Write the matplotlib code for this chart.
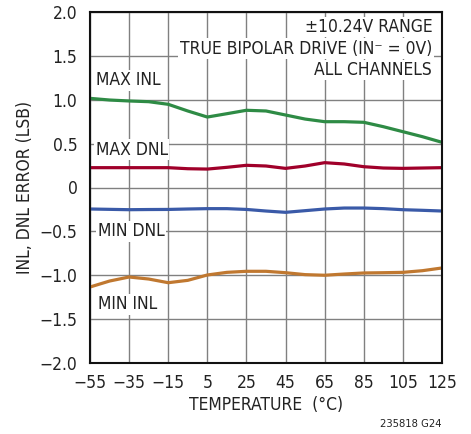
import matplotlib.pyplot as plt
from matplotlib.ticker import FixedLocator, FuncFormatter

# temperatures (°C) and values, every 10 degrees
temp = [-55, -45, -35, -25, -15, -5, 5, 15, 25, 35, 45, 55, 65, 75, 85, 95, 105, 115, 125]
max_inl = [1.016, 0.997, 0.986, 0.978, 0.948, 0.872, 0.803, 0.841, 0.88, 0.872,
           0.826, 0.78, 0.75, 0.75, 0.743, 0.693, 0.636, 0.579, 0.515]
max_dnl = [0.226, 0.226, 0.226, 0.226, 0.226, 0.214, 0.21, 0.23, 0.253, 0.245,
           0.218, 0.245, 0.283, 0.268, 0.237, 0.222, 0.218, 0.222, 0.226]
min_dnl = [-0.245, -0.249, -0.253, -0.251, -0.25, -0.245, -0.241, -0.241, -0.25, -0.268,
           -0.283, -0.264, -0.245, -0.234, -0.234, -0.241, -0.253, -0.26, -0.268]
min_inl = [-1.134, -1.066, -1.02, -1.043, -1.085, -1.058, -0.997, -0.967, -0.955, -0.955,
           -0.971, -0.993, -1.0, -0.986, -0.974, -0.971, -0.967, -0.948, -0.917]

x_ticks = [-55, -35, -15, 5, 25, 45, 65, 85, 105, 125]
y_ticks = [-2.0, -1.5, -1.0, -0.5, 0, 0.5, 1.0, 1.5, 2.0]

plt.rcParams['font.family'] = ['Liberation Sans Narrow', 'DejaVu Sans']
plt.rcParams['font.stretch'] = 'condensed'

fig = plt.figure(figsize=(4.71, 4.34), dpi=100)
ax = fig.add_axes([90 / 471, 1 - 363 / 434, 352 / 471, 351 / 434])

ax.plot(temp, max_inl, color='#2e8b45', lw=2.3)
ax.plot(temp, max_dnl, color='#a0002a', lw=2.3)
ax.plot(temp, min_dnl, color='#3a5aa8', lw=2.3)
ax.plot(temp, min_inl, color='#c07830', lw=2.3)

ax.set_xlim(-55, 125)
ax.set_ylim(-2.0, 2.0)
ax.xaxis.set_major_locator(FixedLocator(x_ticks))
ax.yaxis.set_major_locator(FixedLocator(y_ticks))


def yfmt(v, pos):
    if abs(v) < 1e-9:
        return '0'
    return f'{v:.1f}'.replace('-', '\u2212')


ax.yaxis.set_major_formatter(FuncFormatter(yfmt))
ax.xaxis.set_major_formatter(FuncFormatter(lambda v, p: f'{int(v)}'.replace('-', '\u2212')))
ax.grid(True, color='#808080', lw=1)
ax.set_axisbelow(True)
ax.tick_params(length=0, labelsize=12.5, colors='#222222')
ax.tick_params(axis='x', pad=8)
ax.tick_params(axis='y', pad=9)
for s in ax.spines.values():
    s.set_linewidth(1.5)
    s.set_color('#111111')

ax.set_xlabel('TEMPERATURE  (°C)', fontsize=12.5, color='#222222', labelpad=3)
ax.set_ylabel('INL, DNL ERROR (LSB)', fontsize=12.5, color='#222222', labelpad=4)

box = dict(facecolor='white', edgecolor='none', pad=1)
lab = dict(fontsize=12.5, color='#222222', va='center', ha='left', bbox=box)
ax.text(-52, 1.22, 'MAX INL', **lab)
ax.text(-52, 0.43, 'MAX DNL', **lab)
ax.text(-51, -0.5, 'MIN DNL', **lab)
ax.text(-51, -1.33, 'MIN INL', **lab)

rt = dict(fontsize=12.5, color='#222222', va='center', ha='right', bbox=box)
ax.text(120, 1.83, '±10.24V RANGE', **rt)
ax.text(120, 1.58, 'TRUE BIPOLAR DRIVE (IN\u207b = 0V)', **rt)
ax.text(120, 1.34, 'ALL CHANNELS', **rt)

fig.text(442 / 471, 1 - 424 / 434, '235818 G24', fontsize=8, ha='right', va='center', color='#222222')

fig.savefig('out.png', dpi=100)
